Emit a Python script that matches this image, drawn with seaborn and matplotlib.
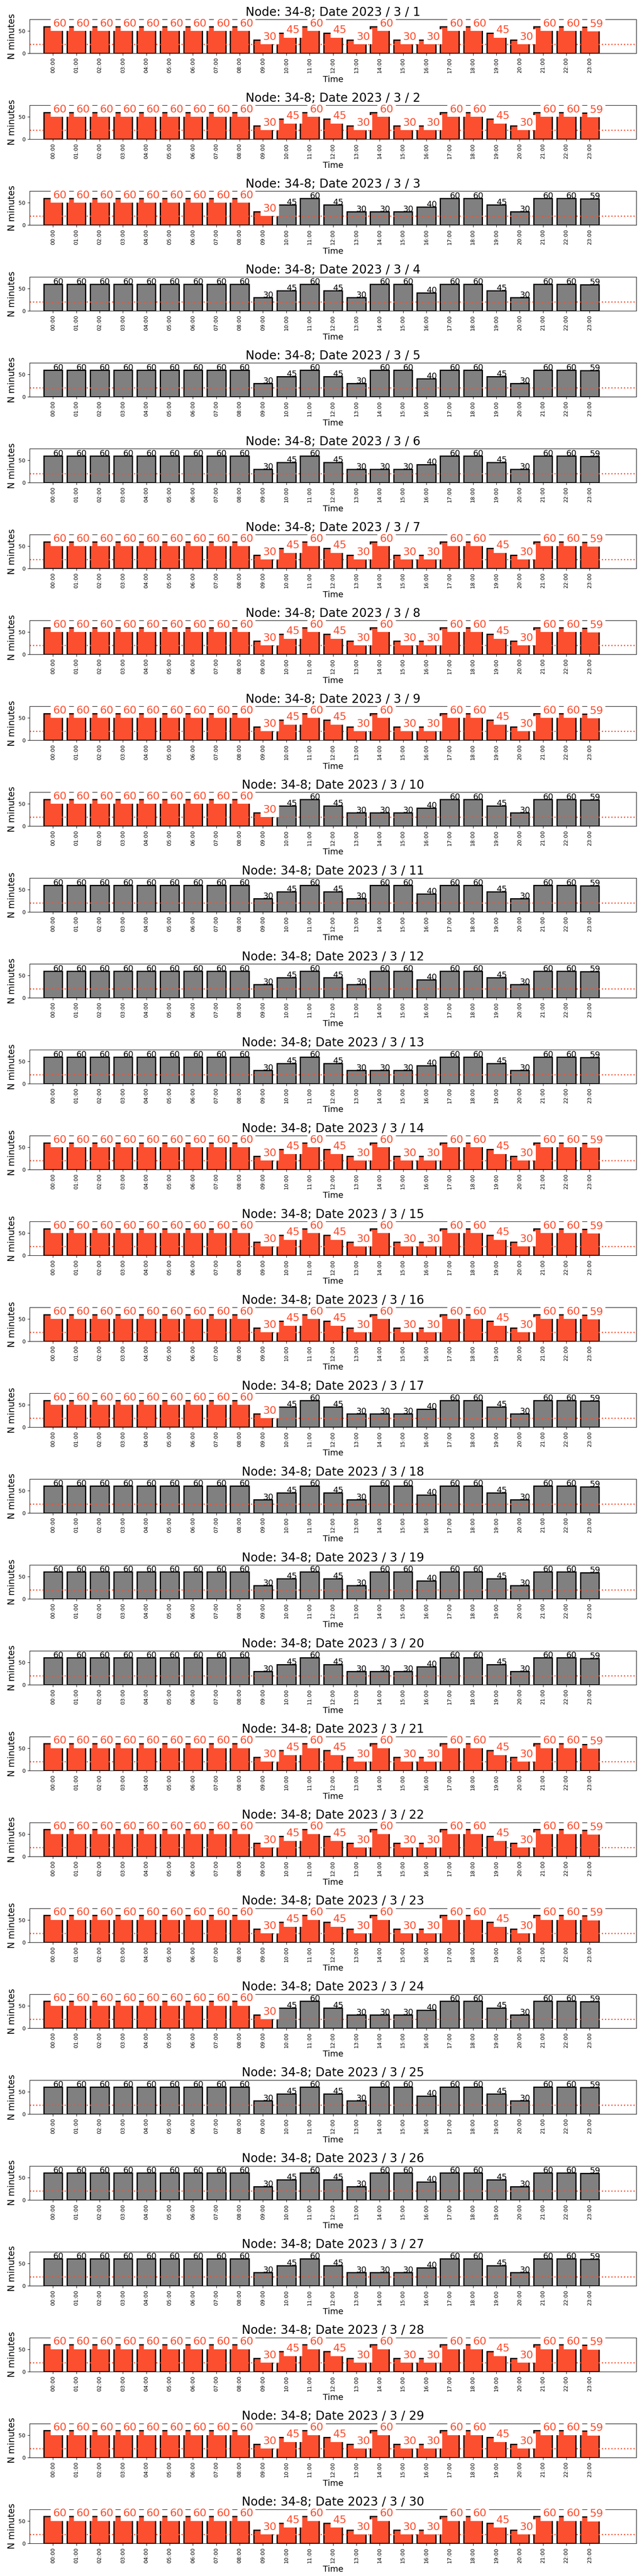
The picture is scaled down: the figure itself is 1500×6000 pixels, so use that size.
import matplotlib
matplotlib.use("Agg")
import matplotlib.pyplot as plt
import seaborn as sns
import pandas as pd

###############################################################################
# Data
###############################################################################
node = "34-8"

dates = [
    "2023 / 3 / 1", "2023 / 3 / 2", "2023 / 3 / 3", "2023 / 3 / 4", "2023 / 3 / 5",
    "2023 / 3 / 6", "2023 / 3 / 7", "2023 / 3 / 8", "2023 / 3 / 9", "2023 / 3 / 10",
    "2023 / 3 / 11", "2023 / 3 / 12", "2023 / 3 / 13", "2023 / 3 / 14", "2023 / 3 / 15",
    "2023 / 3 / 16", "2023 / 3 / 17", "2023 / 3 / 18", "2023 / 3 / 19", "2023 / 3 / 20",
    "2023 / 3 / 21", "2023 / 3 / 22", "2023 / 3 / 23", "2023 / 3 / 24", "2023 / 3 / 25",
    "2023 / 3 / 26", "2023 / 3 / 27", "2023 / 3 / 28", "2023 / 3 / 29", "2023 / 3 / 30",
]

hours = [
    "00:00", "01:00", "02:00", "03:00", "04:00", "05:00", "06:00", "07:00",
    "08:00", "09:00", "10:00", "11:00", "12:00", "13:00", "14:00", "15:00",
    "16:00", "17:00", "18:00", "19:00", "20:00", "21:00", "22:00", "23:00",
]

# minutes per hour -- three daily patterns that repeat over the month
minutes_a = [60, 60, 60, 60, 60, 60, 60, 60, 60, 30, 45, 60, 45, 30, 60, 30, 30, 60, 60, 45, 30, 60, 60, 59]
minutes_b = [60, 60, 60, 60, 60, 60, 60, 60, 60, 30, 45, 60, 45, 30, 60, 60, 40, 60, 60, 45, 30, 60, 60, 59]
minutes_c = [60, 60, 60, 60, 60, 60, 60, 60, 60, 30, 45, 60, 45, 30, 30, 30, 40, 60, 60, 45, 30, 60, 60, 59]
patterns = {"a": minutes_a, "b": minutes_b, "c": minutes_c}

day_pattern = [
    "a", "a", "c", "b", "b", "c", "a", "a", "a", "c",
    "b", "b", "c", "a", "a", "a", "c", "b", "b", "c",
    "a", "a", "a", "c", "b", "b", "c", "a", "a", "a",
]

# number of leading hours flagged (drawn red) on each day
flagged_hours = [
    24, 24, 10, 0, 0, 0, 24, 24, 24, 10,
    0, 0, 0, 24, 24, 24, 10, 0, 0, 0,
    24, 24, 24, 10, 0, 0, 0, 24, 24, 24,
]

threshold = 20

RED = "#fc4f30"
GREY = "grey"

###############################################################################
# Plot
###############################################################################
fig, axes = plt.subplots(len(dates), 1, figsize=(15, 60), dpi=100)
fig.subplots_adjust(left=0.046, right=0.988, top=0.9925, bottom=0.0127, hspace=1.53)

for ax, date, pat, n_flag in zip(axes, dates, day_pattern, flagged_hours):
    values = patterns[pat]
    flags = [i < n_flag for i in range(len(hours))]
    df = pd.DataFrame({"Time": hours, "N minutes": values, "flag": flags})
    colors = [RED if f else GREY for f in flags]

    sns.barplot(data=df, x="Time", y="N minutes", hue="Time", palette=colors,
                saturation=1, edgecolor="black", linewidth=2, legend=False, ax=ax)

    ax.axhline(threshold, color=RED, linestyle=":", linewidth=2)

    for i, (v, f) in enumerate(zip(values, flags)):
        if f:
            ax.text(i, v, str(v), color=RED, fontsize=18,
                    bbox=dict(facecolor="white", edgecolor="none"))
        else:
            ax.text(i, v, str(v), color="black", fontsize=14)

    ax.set_xlim(-1, 25)
    ax.set_ylim(0, 76)
    ax.set_yticks([0, 50])
    ax.tick_params(axis="y", labelsize=9)
    ax.tick_params(axis="x", labelsize=9, rotation=90)
    ax.set_title(f"Node: {node}; Date {date}", fontsize=20)
    ax.set_xlabel("Time", fontsize=14)
    ax.set_ylabel("N minutes", fontsize=15)

plt.savefig("out.png", dpi=100)
